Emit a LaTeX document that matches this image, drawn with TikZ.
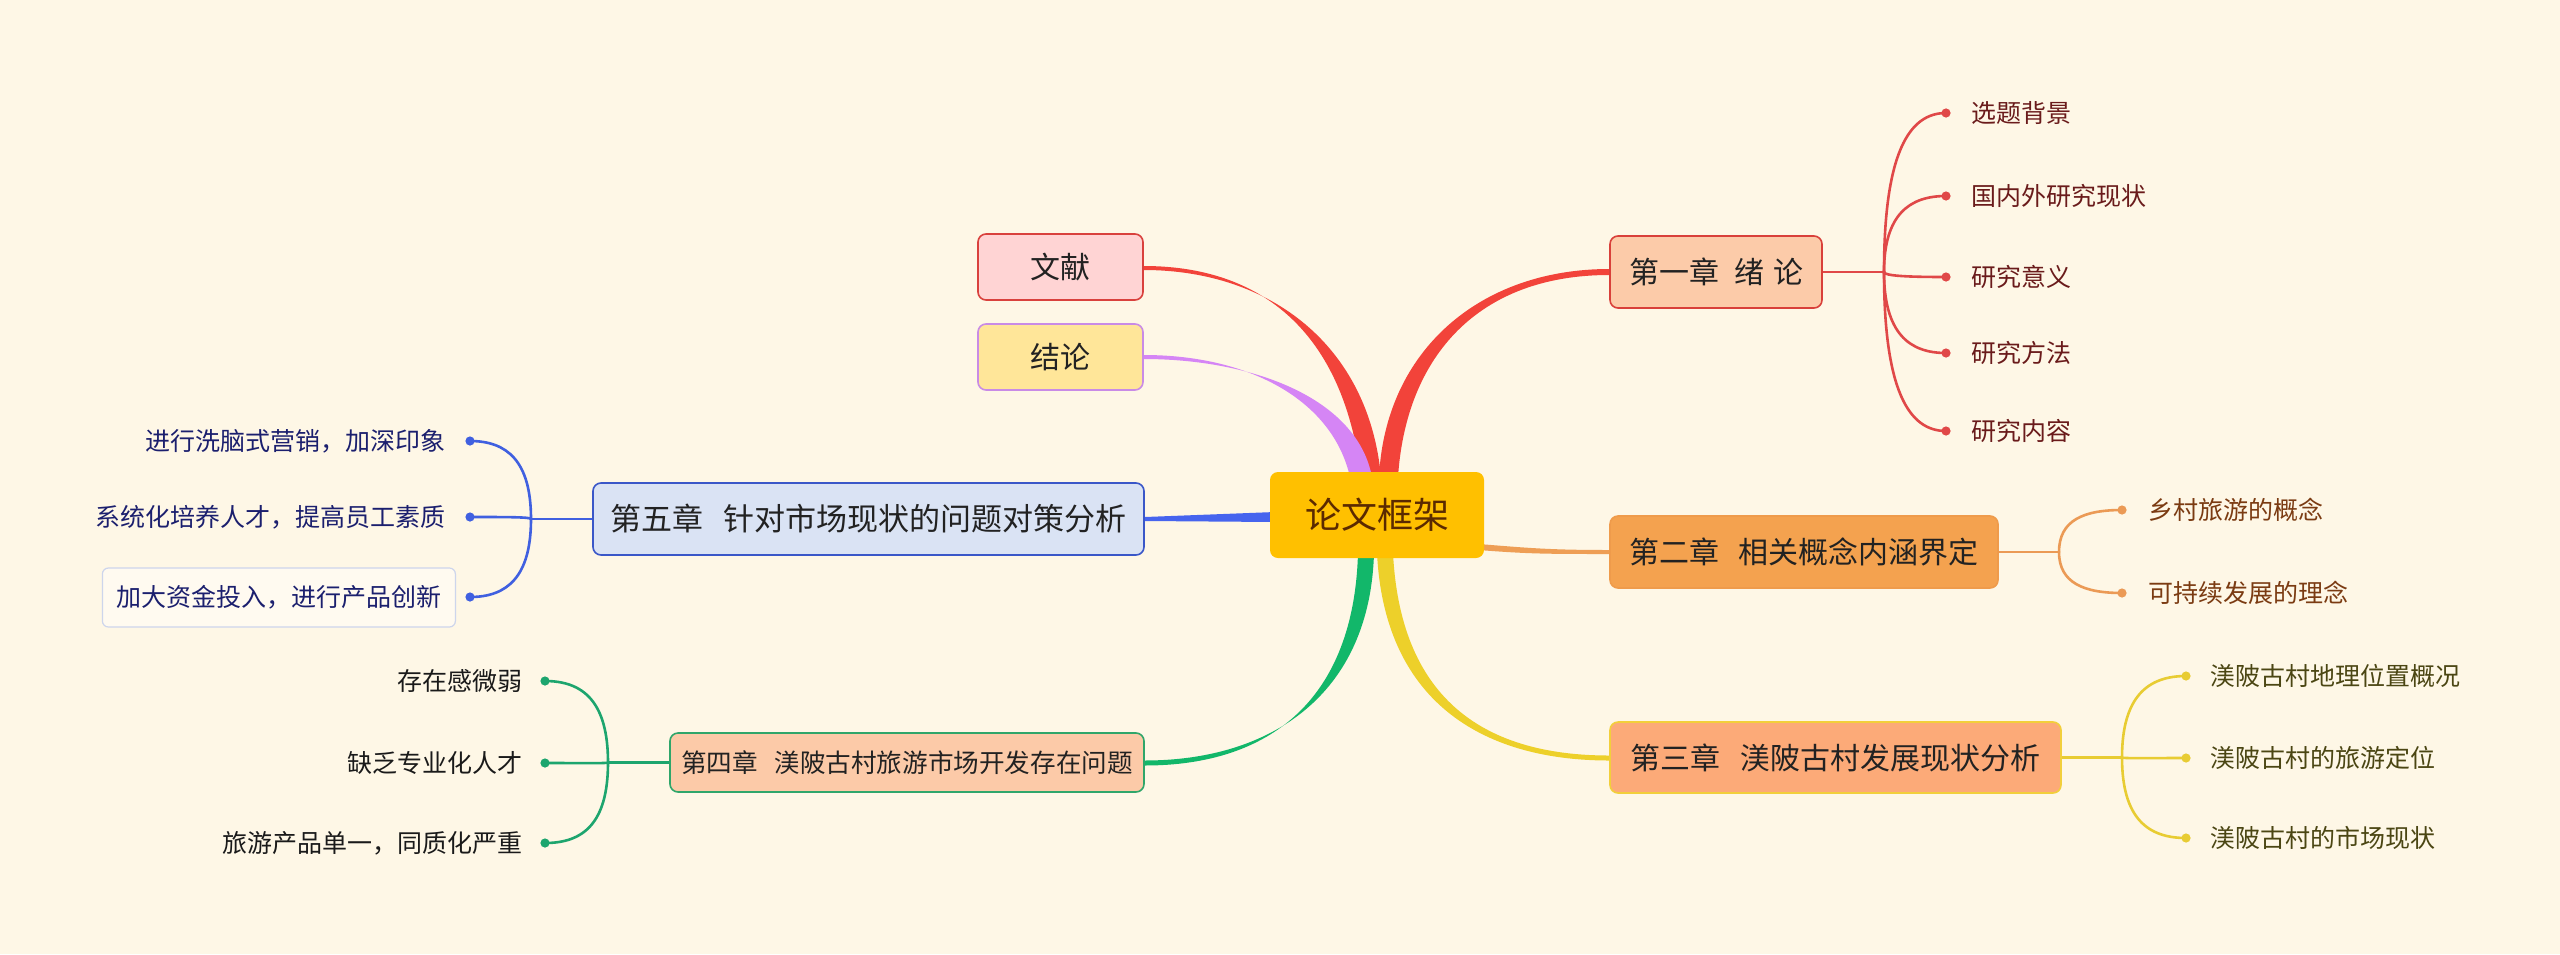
\documentclass[tikz,border=0pt]{standalone}
\usepackage{fontspec}
\setmainfont{Noto Sans CJK SC}
\usetikzlibrary{calc}
\pgfdeclarelayer{back}\pgfdeclarelayer{mid}\pgfsetlayers{back,mid,main}
\definecolor{bgc}{HTML}{FEF7E6}
\definecolor{txt}{HTML}{222222}
\definecolor{rootfill}{HTML}{FFC000}
\definecolor{roottxt}{HTML}{5B2A00}
\definecolor{wxfill}{HTML}{FFD4D4}
\definecolor{wxline}{HTML}{D9413D}
\definecolor{jlfill}{HTML}{FFE699}
\definecolor{jlline}{HTML}{C98BE6}
\definecolor{c1fill}{HTML}{FCCBA9}
\definecolor{c1line}{HTML}{D9403A}
\definecolor{c2fill}{HTML}{F4A24F}
\definecolor{c2line}{HTML}{EF9B4B}
\definecolor{c3fill}{HTML}{FCAA78}
\definecolor{c3line}{HTML}{F2CF3B}
\definecolor{c5fill}{HTML}{DAE3F4}
\definecolor{c5line}{HTML}{3A57C8}
\definecolor{c4fill}{HTML}{FCCAA8}
\definecolor{c4line}{HTML}{2FA66A}
\definecolor{redc}{HTML}{F2433A}
\definecolor{purc}{HTML}{D585F5}
\definecolor{bluec}{HTML}{4664EE}
\definecolor{orgc}{HTML}{EE9E55}
\definecolor{yelc}{HTML}{EDD02A}
\definecolor{grnc}{HTML}{12B76A}
\definecolor{l1}{HTML}{E04848}
\definecolor{l2}{HTML}{EB9A55}
\definecolor{l3}{HTML}{E8CC33}
\definecolor{l5}{HTML}{4060E0}
\definecolor{l4}{HTML}{1DA56E}
\definecolor{t1}{HTML}{6A1B1B}
\definecolor{t2}{HTML}{7B3B12}
\definecolor{t3}{HTML}{4B4613}
\definecolor{t5}{HTML}{1B1F6E}
\definecolor{t4}{HTML}{1A1A1A}
\definecolor{hlfill}{HTML}{FFFAF0}
\definecolor{hlline}{HTML}{CDD5EC}
\newcommand\gapA{\hspace{0.65em}}
\newcommand\gapB{\hspace{0.5em}}
\newcommand\gapC{\hspace{0.3em}}
\begin{document}
\begin{tikzpicture}[x=0.5pt,y=-0.5pt,
  box/.style={rounded corners=4pt, line width=0.8pt, inner sep=0pt, align=center, text=txt},
  chap/.style={box, minimum height=36pt, font=\fontsize{15}{18}\selectfont},
  leaf/.style={inner sep=0pt, font=\fontsize{12.5}{15}\selectfont},
  dot/.style={circle, inner sep=0pt, minimum size=4.6pt},
  sub/.style={line width=1.3pt, line cap=round},
]
\begin{pgfonlayer}{back}
\fill[bgc] (0,0) rectangle (2560,954);
\end{pgfonlayer}
\useasboundingbox (0,0) rectangle (2560,954);

% main nodes
\node[box, fill=rootfill, text=roottxt, minimum width=107pt, minimum height=43pt, font=\fontsize{18}{21}\selectfont] (root) at (1377,515) {论文框架};
\node[box, fill=wxfill, draw=wxline, minimum width=82.5pt, minimum height=33pt, font=\fontsize{15}{18}\selectfont] (wx) at (1060.5,267) {文献};
\node[box, fill=jlfill, draw=jlline, minimum width=82.5pt, minimum height=33pt, font=\fontsize{15}{18}\selectfont] (jl) at (1060.5,357) {结论};
\node[chap, fill=c1fill, draw=c1line, minimum width=106pt] (c1) at (1716,272) {第一章\gapB 绪\gapC 论};
\node[chap, fill=c2fill, draw=c2line, minimum width=194pt] (c2) at (1804,552) {第二章\gapA 相关概念内涵界定};
\node[chap, fill=c3fill, draw=c3line, minimum width=225.5pt, minimum height=35.5pt] (c3) at (1835.5,757.5) {第三章\gapA 渼陂古村发展现状分析};
\node[box, fill=c5fill, draw=c5line, minimum width=275.5pt, minimum height=36pt, font=\fontsize{15.5}{18}\selectfont] (c5) at (868.5,519) {第五章\gapA 针对市场现状的问题对策分析};
\node[box, fill=c4fill, draw=c4line, minimum width=237pt, minimum height=29.5pt, font=\fontsize{12.8}{15}\selectfont] (c4) at (907,762.5) {第四章\gapA 渼陂古村旅游市场开发存在问题};

% branch points
\coordinate (b1) at (1884,272);
\coordinate (b2) at (2059,552);
\coordinate (b3) at (2122,757.5);
\coordinate (b5) at (531,519);
\coordinate (b4) at (608,762.5);

% dots
\foreach \n/\y in {11/113,12/196,13/277,14/353,15/431} \node[dot, fill=l1] (d\n) at (1946,\y) {};
\foreach \n/\y in {21/510,22/593} \node[dot, fill=l2] (d\n) at (2122,\y) {};
\foreach \n/\y in {31/676,32/758,33/838} \node[dot, fill=l3] (d\n) at (2186,\y) {};
\foreach \n/\y in {51/441,52/517,53/597} \node[dot, fill=l5] (d\n) at (470,\y) {};
\foreach \n/\y in {41/681,42/763,43/843} \node[dot, fill=l4] (d\n) at (545,\y) {};

% leaves
\node[leaf, text=t1, anchor=west] (e11) at (1971,113) {选题背景};
\node[leaf, text=t1, anchor=west] (e12) at (1971,196) {国内外研究现状};
\node[leaf, text=t1, anchor=west] (e13) at (1971,277) {研究意义};
\node[leaf, text=t1, anchor=west] (e14) at (1971,353) {研究方法};
\node[leaf, text=t1, anchor=west] (e15) at (1971,431) {研究内容};
\node[leaf, text=t2, anchor=west] (e21) at (2148,510) {乡村旅游的概念};
\node[leaf, text=t2, anchor=west] (e22) at (2148,593) {可持续发展的理念};
\node[leaf, text=t3, anchor=west] (e31) at (2210,676) {渼陂古村地理位置概况};
\node[leaf, text=t3, anchor=west] (e32) at (2210,758) {渼陂古村的旅游定位};
\node[leaf, text=t3, anchor=west] (e33) at (2210,838) {渼陂古村的市场现状};
\node[leaf, text=t5, anchor=east] (e51) at (446,441) {进行洗脑式营销，加深印象};
\node[leaf, text=t5, anchor=east] (e52) at (446,517) {系统化培养人才，提高员工素质};
\node[leaf, text=t5, draw=hlline, fill=hlfill, rounded corners=3pt, line width=0.6pt, minimum width=176.5pt, minimum height=29.5pt, anchor=east] (e53) at (456,597.5) {加大资金投入，进行产品创新};
\node[leaf, text=t4, anchor=east] (e41) at (523,681) {存在感微弱};
\node[leaf, text=t4, anchor=east] (e42) at (523,763) {缺乏专业化人才};
\node[leaf, text=t4, anchor=east] (e43) at (523,843) {旅游产品单一，同质化严重};

\begin{pgfonlayer}{mid}
% main tapered connectors
\fill[redc] ($(root.north)+(-16,6)$) .. controls +(-16,-135) and +(127,0) .. ($(wx.east)+(0,-1)$) -- ($(wx.east)+(0,3)$) .. controls +(127,0) and +(-12,-131) .. ($(root.north)+(4,6)$) -- cycle;
\fill[purc] ($(root.north)+(-27,6)$) .. controls +(-17,-76) and +(107,0) .. ($(jl.east)+(0,-2)$) -- ($(jl.east)+(0,2)$) .. controls +(107,0) and +(-15,-80) .. ($(root.north)+(-5,6)$) -- cycle;
\fill[redc] ($(root.north)+(2,6)$) .. controls +(6,-126) and +(-130,0) .. ($(c1.west)+(0,-3)$) -- ($(c1.west)+(0,3)$) .. controls +(-130,0) and +(8,-122) .. ($(root.north)+(21,6)$) -- cycle;
\fill[bluec] ($(root.west)+(6,-3)$) -- ($(c5.east)+(0,-2)$) -- ($(c5.east)+(0,2)$) -- ($(root.west)+(6,7)$) -- cycle;
\fill[orgc] ($(root.east)+(-6,29)$) .. controls +(50,4) and +(-60,0) .. ($(c2.west)+(0,-2)$) -- ($(c2.west)+(0,2)$) .. controls +(-60,0) and +(50,4) .. ($(root.east)+(-6,35)$) -- cycle;
\fill[yelc] ($(root.south)+(0,-6)$) .. controls +(7,146) and +(-130,0) .. ($(c3.west)+(0,3)$) -- ($(c3.west)+(0,-2)$) .. controls +(-130,0) and +(7,142) .. ($(root.south)+(16,-6)$) -- cycle;
\fill[grnc] ($(root.south)+(-19,-6)$) .. controls +(-4,146) and +(126,0) .. ($(c4.east)+(0,3)$) -- ($(c4.east)+(0,-2)$) .. controls +(126,0) and +(-4,142) .. ($(root.south)+(-3,-6)$) -- cycle;

% sub branches
\draw[sub, l1] (c1.east) -- (b1);
\draw[sub, l1] (b1) .. controls +(0,-119) and +(-37,0) .. (d11.center);
\draw[sub, l1] (b1) .. controls +(0,-57) and +(-37,0) .. (d12.center);
\draw[sub, l1] (b1) .. controls +(0,4) and +(-37,0) .. (d13.center);
\draw[sub, l1] (b1) .. controls +(0,61) and +(-37,0) .. (d14.center);
\draw[sub, l1] (b1) .. controls +(0,119) and +(-37,0) .. (d15.center);

\draw[sub, l2] (c2.east) -- (b2);
\draw[sub, l2] (b2) .. controls +(0,-32) and +(-38,0) .. (d21.center);
\draw[sub, l2] (b2) .. controls +(0,31) and +(-38,0) .. (d22.center);

\draw[sub, l3] (c3.east) -- (b3);
\draw[sub, l3] (b3) .. controls +(0,-61) and +(-38,0) .. (d31.center);
\draw[sub, l3] (b3) .. controls +(0,1) and +(-38,0) .. (d32.center);
\draw[sub, l3] (b3) .. controls +(0,61) and +(-38,0) .. (d33.center);

\draw[sub, l5] (c5.west) -- (b5);
\draw[sub, l5] (b5) .. controls +(0,-58) and +(37,0) .. (d51.center);
\draw[sub, l5] (b5) .. controls +(0,-2) and +(37,0) .. (d52.center);
\draw[sub, l5] (b5) .. controls +(0,58) and +(37,0) .. (d53.center);

\draw[sub, l4] (c4.west) -- (b4);
\draw[sub, l4] (b4) .. controls +(0,-61) and +(38,0) .. (d41.center);
\draw[sub, l4] (b4) .. controls +(0,1) and +(38,0) .. (d42.center);
\draw[sub, l4] (b4) .. controls +(0,61) and +(38,0) .. (d43.center);
\end{pgfonlayer}
\end{tikzpicture}
\end{document}
